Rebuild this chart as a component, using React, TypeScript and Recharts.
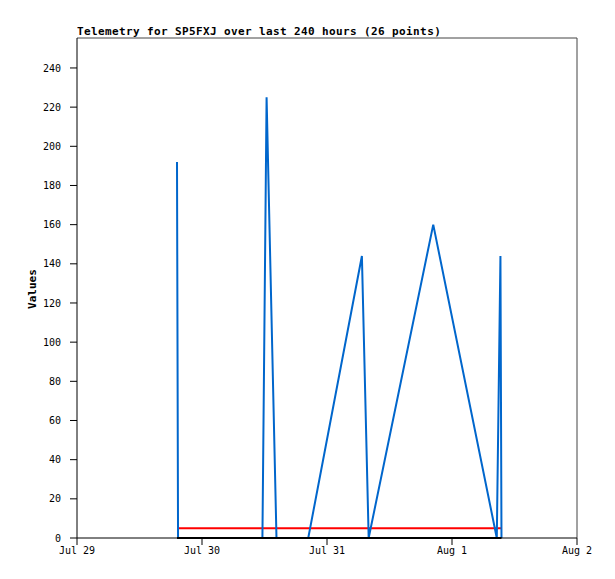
import { LineChart, Line, XAxis, YAxis, ReferenceLine } from "recharts";

// hours since Jul 29 00:00
const hours = [19.2, 19.4, 35.6, 36.4, 38.3, 44.4, 54.7, 56.0, 68.4, 80.6, 81.3, 81.5];
const blueValues = [192, 0, 0, 225, 0, 0, 144, 0, 160, 0, 144, 0];
const redValues = [5, 5, 5, 5, 5, 5, 5, 5, 5, 5, 5, 5];
const blackValues = [0, 0, 0, 0, 0, 0, 0, 0, 0, 0, 0, 0];

const xTicks = [0, 24, 48, 72, 96];
const xTickLabels = ["Jul 29", "Jul 30", "Jul 31", "Aug 1", "Aug 2"];
const yTicks = [0, 20, 40, 60, 80, 100, 120, 140, 160, 180, 200, 220, 240];

const data = hours.map((h, i) => ({
  h,
  blue: blueValues[i],
  red: redValues[i],
  black: blackValues[i],
}));

const mono = "'DejaVu Sans Mono', monospace";
const tickStyle = { fill: "#000", fontSize: 10, fontFamily: mono };

export default function App() {
  return (
    <div style={{ position: "absolute", left: 0, top: 0, width: 615, height: 579, background: "#fff" }}>
      {/* title */}
      <div
        style={{
          position: "absolute",
          left: 77,
          top: 25,
          fontFamily: mono,
          fontWeight: "bold",
          fontSize: 11,
          letterSpacing: 0.38,
          whiteSpace: "nowrap",
          color: "#000",
        }}
      >
        Telemetry for SP5FXJ over last 240 hours (26 points)
      </div>
      {/* y axis label */}
      <div
        style={{
          position: "absolute",
          left: 32,
          top: 289,
          transform: "translate(-50%, -50%) rotate(-90deg)",
          fontFamily: mono,
          fontWeight: "bold",
          fontSize: 11,
          color: "#000",
        }}
      >
        Values
      </div>
      <LineChart width={615} height={579} data={data} margin={{ top: 38, right: 38, left: 37, bottom: 11 }}>
        <XAxis
          dataKey="h"
          type="number"
          domain={[0, 96]}
          ticks={xTicks}
          tickFormatter={(v: number) => xTickLabels[xTicks.indexOf(v)]}
          height={30}
          tick={tickStyle}
          tickSize={7}
          tickMargin={2}
          stroke="#000"
          interval={0}
        />
        <YAxis
          type="number"
          domain={[0, 255.3]}
          ticks={yTicks}
          width={40}
          tick={tickStyle}
          tickSize={7}
          tickMargin={9}
          stroke="#000"
          interval={0}
        />
        <ReferenceLine y={255.3} stroke="#444" strokeWidth={1} />
        <ReferenceLine x={96} stroke="#444" strokeWidth={1} />
        <Line type="linear" dataKey="red" stroke="#ff0000" strokeWidth={2} dot={false} isAnimationActive={false} />
        <Line type="linear" dataKey="blue" stroke="#0066cc" strokeWidth={2} dot={false} isAnimationActive={false} />
        <Line type="linear" dataKey="black" stroke="#000" strokeWidth={2} dot={false} isAnimationActive={false} />
      </LineChart>
    </div>
  );
}
